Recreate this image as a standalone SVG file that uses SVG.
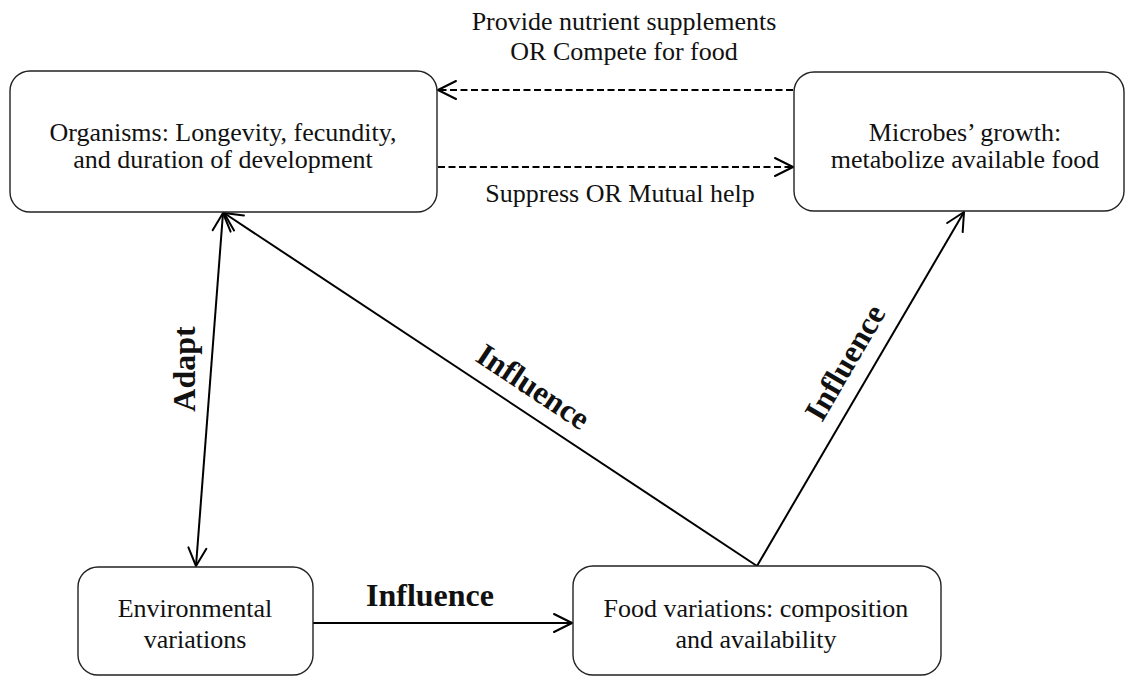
<svg xmlns="http://www.w3.org/2000/svg" width="1126" height="677" viewBox="0 0 1126 677">
<style>
.box{fill:#fff;stroke:#222;stroke-width:1.4}
.t{font-family:"Liberation Serif","Times New Roman",serif;font-size:26px;fill:#111;text-anchor:middle}
.b{font-family:"Liberation Serif","Times New Roman",serif;font-size:32px;font-weight:bold;fill:#111;text-anchor:middle}
.c{fill:none;stroke:#000;stroke-width:2}
.d{fill:none;stroke:#000;stroke-width:2;stroke-dasharray:7 3.5}
</style>
<defs>
<marker id="ah" markerUnits="userSpaceOnUse" viewBox="-20 -11 22 22" refX="0" refY="0" markerWidth="22" markerHeight="22" orient="auto-start-reverse">
<path d="M-18,-9 L0,0 L-18,9" fill="none" stroke="#000" stroke-width="2" stroke-dasharray="none" stroke-linejoin="round" stroke-linecap="round"/>
</marker>
</defs>
<rect width="1126" height="677" fill="#fff"/>
<g id="connectors">
<line class="d" x1="793" y1="90" x2="438" y2="90" marker-end="url(#ah)"/>
<line class="d" x1="438" y1="167" x2="793" y2="167" marker-end="url(#ah)"/>
<line class="c" x1="223" y1="213" x2="196" y2="566" marker-start="url(#ah)" marker-end="url(#ah)"/>
<line class="c" x1="313" y1="623" x2="572" y2="623" marker-end="url(#ah)"/>
<line class="c" x1="757" y1="566" x2="224" y2="213" marker-end="url(#ah)"/>
<line class="c" x1="757" y1="566" x2="964" y2="212" marker-end="url(#ah)"/>
<text class="t" x="624" y="30">Provide nutrient supplements</text>
<text class="t" x="624" y="60">OR Compete for food</text>
<text class="t" x="620" y="202">Suppress OR Mutual help</text>
<text class="b" transform="translate(195,369) rotate(-90)">Adapt</text>
<text class="b" x="430" y="606">Influence</text>
<text class="b" transform="translate(519,408) rotate(33.5)" y="-15">Influence</text>
<text class="b" transform="translate(868,376) rotate(-59.7)" y="-16">Influence</text>
</g>
<g id="organisms">
<rect class="box" x="10" y="71" width="427" height="141" rx="20"/>
<text class="t" x="223" y="141">Organisms: Longevity, fecundity,</text>
<text class="t" x="223" y="168">and duration of development</text>
</g>
<g id="microbes">
<rect class="box" x="794" y="72" width="330" height="139" rx="20"/>
<text class="t" x="965" y="141">Microbes’ growth:</text>
<text class="t" x="965" y="168">metabolize available food</text>
</g>
<g id="environmental">
<rect class="box" x="78" y="567" width="235" height="108" rx="20"/>
<text class="t" x="195" y="617">Environmental</text>
<text class="t" x="195" y="648">variations</text>
</g>
<g id="food">
<rect class="box" x="573" y="566" width="368" height="109" rx="20"/>
<text class="t" x="756" y="617">Food variations: composition</text>
<text class="t" x="756" y="648">and availability</text>
</g>
</svg>
